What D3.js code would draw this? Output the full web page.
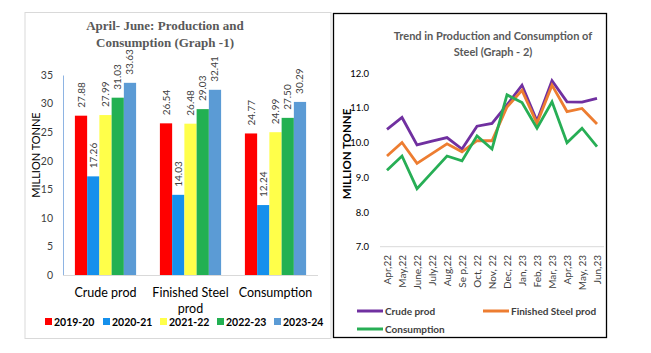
<!DOCTYPE html>
<html><head><meta charset="utf-8">
<script src="https://cdn.jsdelivr.net/npm/d3@7"></script>
<style>body{margin:0;background:#fff}svg{display:block}</style>
</head><body>
<svg id="c" width="651" height="353"></svg>
<script>
// ---- Graph 1 data
const barCategories = ["Crude prod", "Finished Steel prod", "Consumption"];
const barYears = ["2019-20", "2020-21", "2021-22", "2022-23", "2023-24"];
const v2019 = [27.88, 26.54, 24.77];
const v2020 = [17.26, 14.03, 12.24];
const v2021 = [27.99, 26.48, 24.99];
const v2022 = [31.03, 29.03, 27.50];
const v2023 = [33.63, 32.41, 30.29];
const barTicks = [0, 5, 10, 15, 20, 25, 30, 35];
const barColors = ["#ff0000", "#1590ec", "#ffff4a", "#22b052", "#5b9bd5"];

// ---- Graph 2 data
const months = ["Apr,22","May,22","June,22","July,22","Aug,22","Se p,22","Oct, 22","Nov, 22","Dec, 22","Jan, 23","Feb, 23","Mar, 23","Apr,23","May, 23","Jun,23"];
const crudeProd =    [10.38,10.72,9.93,10.04,10.14,9.81,10.47,10.55,11.08,11.65,10.62,11.78,11.17,11.16,11.27];
const finishedProd = [9.61,10.00,9.40,9.68,9.96,9.73,10.05,10.05,11.02,11.50,10.55,11.65,10.89,10.98,10.53];
const consumption =  [9.20,9.61,8.67,9.14,9.61,9.47,10.19,9.81,11.37,11.15,10.41,11.17,9.99,10.41,9.88];
const lineTicks = [7, 8, 9, 10, 11, 12];
const lineNames = ["Crude prod", "Finished Steel prod", "Consumption"];
const lineColors = ["#7030a0", "#ed7d31", "#27ae55"];

const svg = d3.select("#c");
const sans = "Lato, 'Open Sans', sans-serif";

// ===== Graph 1 =====
const g1 = svg.append("g");
g1.append("rect").attr("x",25).attr("y",12.5).attr("width",306).attr("height",326)
  .attr("fill","none").attr("stroke","#d9d9d9").attr("stroke-width",1);
g1.append("text").attr("x",165).attr("y",30).attr("text-anchor","middle")
  .attr("font-family","'Liberation Serif', serif").attr("font-weight","bold").attr("font-size",13)
  .attr("fill","#595959").text("April- June: Production and");
g1.append("text").attr("x",165).attr("y",47).attr("text-anchor","middle")
  .attr("font-family","'Liberation Serif', serif").attr("font-weight","bold").attr("font-size",13)
  .attr("fill","#595959").text("Consumption (Graph -1)");

const x0 = d3.scaleBand().domain(barCategories).range([63, 318]).paddingInner(0.28).paddingOuter(0.14);
const x1 = d3.scaleBand().domain(barYears).range([0, x0.bandwidth()]);
const y1 = d3.scaleLinear().domain([0, 35]).range([275, 75]);
const seriesVals = [v2019, v2020, v2021, v2022, v2023];

// ticks
const yAx1 = g1.append("g").attr("transform","translate(63,0)")
  .call(d3.axisLeft(y1).tickValues(barTicks).tickSize(0).tickPadding(10));
yAx1.select(".domain").attr("stroke","#8eb4e3");
yAx1.selectAll("text").attr("font-family",sans).attr("font-size",10.5).attr("fill","#404040");
g1.append("line").attr("x1",63).attr("x2",318).attr("y1",275.5).attr("y2",275.5).attr("stroke","#d9d9d9");

g1.append("text").attr("transform","translate(40,155) rotate(-90)").attr("text-anchor","middle")
  .attr("font-family",sans).attr("font-size",11).attr("fill","#000").text("MILLION TONNE");

barYears.forEach((yr, si) => {
  const vals = seriesVals[si];
  barCategories.forEach((cat, ci) => {
    const v = vals[ci];
    const bx = x0(cat) + x1(yr);
    g1.append("rect").attr("x", bx).attr("y", y1(v)).attr("width", x1.bandwidth())
      .attr("height", y1(0) - y1(v)).attr("fill", barColors[si]);
    g1.append("text").attr("transform", `translate(${bx + x1.bandwidth()/2 + 3.5},${y1(v) - 8}) rotate(-90)`)
      .attr("font-family",sans).attr("font-size",10).attr("fill","#404040").text(v.toFixed(2));
  });
});

// category labels
barCategories.forEach(cat => {
  const cx = x0(cat) + x0.bandwidth()/2;
  const t = g1.append("text").attr("text-anchor","middle").attr("font-family",sans)
    .attr("font-size",12.5).attr("fill","#000");
  if (cat === "Finished Steel prod") {
    t.append("tspan").attr("x",cx).attr("y",297).text("Finished Steel");
    t.append("tspan").attr("x",cx).attr("y",313).text("prod");
  } else {
    t.attr("x",cx).attr("y",297).text(cat);
  }
});

// legend
const legX = [45, 103, 160, 217, 274];
barYears.forEach((yr, i) => {
  g1.append("rect").attr("x",legX[i]).attr("y",318).attr("width",7).attr("height",7).attr("fill",barColors[i]);
  g1.append("text").attr("x",legX[i]+9).attr("y",325.5).attr("font-family",sans).attr("font-weight","bold")
    .attr("font-size",10.5).attr("fill","#000").text(yr);
});

// ===== Graph 2 =====
const g2 = svg.append("g");
g2.append("rect").attr("x",333.5).attr("y",13.5).attr("width",273).attr("height",324)
  .attr("fill","#fff").attr("stroke","#000").attr("stroke-width",1.3);
g2.append("text").attr("x",493).attr("y",40).attr("text-anchor","middle").attr("font-family",sans)
  .attr("font-weight","bold").attr("font-size",11).attr("fill","#595959").text("Trend in Production and Consumption of");
g2.append("text").attr("x",493).attr("y",56).attr("text-anchor","middle").attr("font-family",sans)
  .attr("font-weight","bold").attr("font-size",11).attr("fill","#595959").text("Steel (Graph - 2)");

const xp = d3.scalePoint().domain(months).range([387, 597]);
const y2 = d3.scaleLinear().domain([7, 12]).range([246.7, 73]);

const yAx2 = g2.append("g").attr("transform","translate(380,0)")
  .call(d3.axisLeft(y2).tickValues(lineTicks).tickFormat(d3.format(".1f")).tickSize(0).tickPadding(11));
yAx2.select(".domain").remove();
yAx2.selectAll("text").attr("font-family",sans).attr("font-size",9.5).attr("fill","#000");
g2.append("line").attr("x1",380).attr("x2",604).attr("y1",246.7).attr("y2",246.7).attr("stroke","#d9d9d9");

const xAx2 = g2.append("g").attr("transform","translate(0,250)")
  .call(d3.axisBottom(xp).tickSize(0).tickPadding(0));
xAx2.select(".domain").remove();
xAx2.selectAll("text").attr("font-family",sans).attr("font-size",10).attr("fill","#404040")
  .attr("transform","rotate(-90)").attr("text-anchor","end").attr("dx","-2").attr("dy","0.35em").attr("y",0).attr("x",-3);

g2.append("text").attr("transform","translate(350.5,154) rotate(-90)").attr("text-anchor","middle")
  .attr("font-family",sans).attr("font-weight","bold").attr("font-size",11.5).attr("fill","#000").text("MILLION TONNE");

const lineGen = d3.line().x((d,i) => xp(months[i])).y(d => y2(d));
[crudeProd, finishedProd, consumption].forEach((s, i) => {
  g2.append("path").datum(s).attr("d", lineGen).attr("fill","none")
    .attr("stroke", lineColors[i]).attr("stroke-width", 2.8).attr("stroke-linejoin","miter");
});

// legend
const lg = [[357, 311], [483, 311], [357, 329]];
lineNames.forEach((n, i) => {
  g2.append("line").attr("x1",lg[i][0]).attr("x2",lg[i][0]+26).attr("y1",lg[i][1]).attr("y2",lg[i][1])
    .attr("stroke",lineColors[i]).attr("stroke-width",3);
  g2.append("text").attr("x",lg[i][0]+28).attr("y",lg[i][1]+3.5).attr("font-family",sans)
    .attr("font-weight","bold").attr("font-size",10).attr("fill","#404040").text(n);
});
</script>
</body></html>
